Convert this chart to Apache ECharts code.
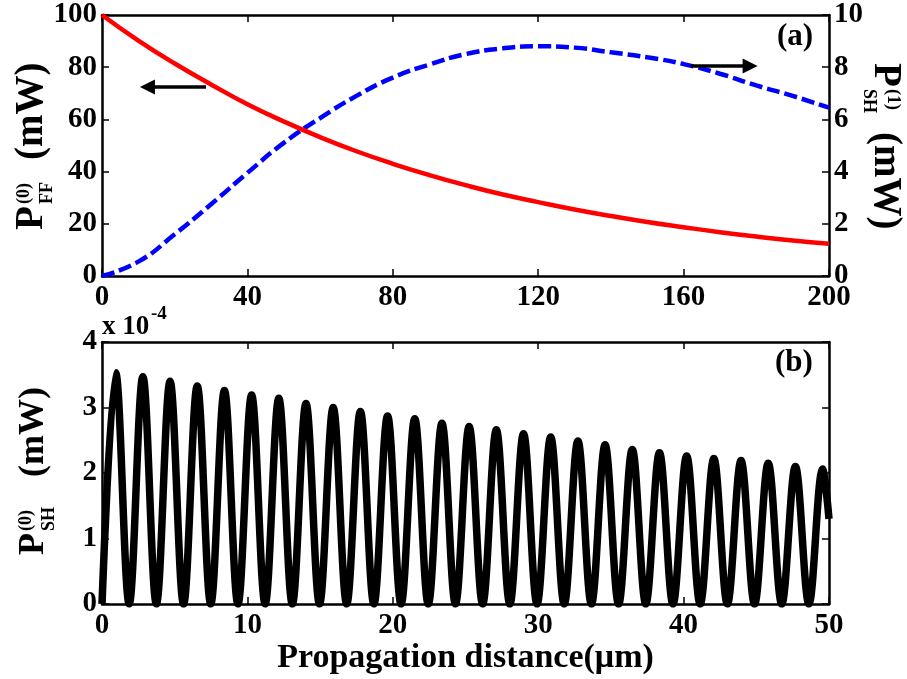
<!DOCTYPE html>
<html>
<head>
<meta charset="utf-8">
<script src="https://cdn.jsdelivr.net/npm/echarts@6/dist/echarts.min.js"></script>
<style>
  html, body { margin: 0; padding: 0; background: #ffffff; }
  #chart { width: 907px; height: 679px; }
</style>
</head>
<body>
<div id="chart"></div>
<script>
// ---- Panel (a): pump (FF) and first-order SH power along the crystal ----
const distA = [0, 10, 20, 30, 40, 50, 60, 70, 80, 90, 100, 110, 120, 130, 140, 150, 160, 170, 180, 190, 200];
const powerFF = [100, 90.2, 81.4, 73.4, 65.8, 59.2, 53.2, 47.8, 43.0, 38.7, 34.8, 31.3, 28.3, 25.5, 23.0, 20.7, 18.7, 16.8, 15.1, 13.6, 12.4];
const powerSH1 = [0, 0.55, 1.6, 2.75, 3.95, 5.1, 6.05, 6.9, 7.6, 8.1, 8.5, 8.72, 8.8, 8.75, 8.57, 8.38, 8.12, 7.75, 7.3, 6.9, 6.45];

// arrows pointing each curve to its own axis: [start, end] in (distance, P_FF) units
const arrowToLeft = [[28.6, 72.4], [12.5, 72.4]];
const arrowToRight = [[162, 80.5], [178.3, 80.5]];

// tick values
const xTicksA = [0, 40, 80, 120, 160, 200];
const yTicksFF = [0, 20, 40, 60, 80, 100];
const yTicksSH1 = [0, 2, 4, 6, 8, 10];

// ---- Panel (b): zeroth-order SH power (x 1e-4 mW), phase-mismatch oscillation ----
const peakZ = [0.94, 2.81, 4.68, 6.55, 8.42, 10.29, 12.16, 14.03, 15.90, 17.77, 19.64, 21.51, 23.38, 25.25, 27.12, 28.99, 30.86, 32.73, 34.60, 36.47, 38.34, 40.21, 42.08, 43.95, 45.82, 47.69, 49.56];
const peakP = [3.53, 3.47, 3.40, 3.33, 3.26, 3.19, 3.14, 3.06, 3.00, 2.94, 2.87, 2.83, 2.76, 2.71, 2.66, 2.60, 2.55, 2.49, 2.43, 2.36, 2.31, 2.26, 2.22, 2.19, 2.15, 2.10, 2.06];
const valleyZ = [0, 1.87, 3.74, 5.61, 7.48, 9.35, 11.22, 13.09, 14.96, 16.83, 18.70, 20.57, 22.44, 24.31, 26.18, 28.05, 29.92, 31.79, 33.66, 35.53, 37.40, 39.27, 41.14, 43.01, 44.88, 46.75, 48.62];
const valleyP = [0, 0, 0, 0, 0, 0, 0, 0, 0, 0, 0, 0, 0, 0, 0, 0, 0, 0, 0, 0, 0, 0, 0, 0, 0, 0, 0];
const edgeB = [50, 1.3];

const xTicksB = [0, 10, 20, 30, 40, 50];
const yTicksB = [0, 1, 2, 3, 4];

// ---- helpers ----
const serif = '"Liberation Serif", "Times New Roman", serif';
const zip = (xs, ys) => xs.map((x, i) => [x, ys[i]]);
const range = t => ({ min: t[0], max: t[t.length - 1], interval: t[1] - t[0] });

const panelB = [];
valleyZ.forEach((z, i) => {
  panelB.push([z, valleyP[i]]);
  panelB.push([peakZ[i], peakP[i]]);
});
panelB.push(edgeB);

const tickLabel = { show: true, color: '#000', fontFamily: serif, fontWeight: 'bold', fontSize: 29 };
const axisLine = { show: true, onZero: false, lineStyle: { color: '#000', width: 2.5 } };
const axisTick = { show: true, inside: true, length: 7, lineStyle: { color: '#000', width: 1.5 } };

function valueAxis(extra, ticks, labelOn, margin) {
  return Object.assign({
    type: 'value',
    ...range(ticks),
    axisLine: axisLine,
    axisTick: axisTick,
    splitLine: { show: false },
    axisLabel: labelOn ? Object.assign({ margin: margin }, tickLabel) : { show: false }
  }, extra);
}

function txt(text, x, y, size) {
  return {
    type: 'text', x: x, y: y,
    style: {
      text: text, font: 'bold ' + size + 'px ' + serif, fill: '#000',
      align: 'left', verticalAlign: 'middle', textAlign: 'left', textVerticalAlign: 'middle'
    }
  };
}

const chart = echarts.init(document.getElementById('chart'), null, { renderer: 'canvas' });

chart.setOption({
  animation: false,
  backgroundColor: '#ffffff',
  grid: [
    { left: 102, top: 15, width: 727, height: 261 },
    { left: 102, top: 342, width: 727, height: 262 }
  ],
  xAxis: [
    valueAxis({ gridIndex: 0, position: 'bottom' }, xTicksA, true, 7),
    valueAxis({ gridIndex: 0, position: 'top' }, xTicksA, false, 8),
    valueAxis({
      gridIndex: 1, position: 'bottom',
      name: 'Propagation distance(\u03bcm)', nameLocation: 'middle', nameGap: 31,
      nameTextStyle: { color: '#000', fontFamily: serif, fontWeight: 'bold', fontSize: 34 }
    }, xTicksB, true, 7),
    valueAxis({ gridIndex: 1, position: 'top' }, xTicksB, false, 8)
  ],
  yAxis: [
    valueAxis({ gridIndex: 0, position: 'left' }, yTicksFF, true, 5),
    valueAxis({ gridIndex: 0, position: 'right' }, yTicksSH1, true, 5),
    valueAxis({ gridIndex: 1, position: 'left' }, yTicksB, true, 5),
    valueAxis({ gridIndex: 1, position: 'right' }, yTicksB, false, 5)
  ],
  series: [
    {
      name: 'P_SH(1)', type: 'line', xAxisIndex: 0, yAxisIndex: 1,
      data: zip(distA, powerSH1), smooth: true, showSymbol: false, z: 2,
      lineStyle: { color: '#0000ff', width: 4.5, type: [13, 5] }
    },
    {
      name: 'P_FF(0)', type: 'line', xAxisIndex: 0, yAxisIndex: 0,
      data: zip(distA, powerFF), smooth: true, showSymbol: false, z: 3,
      lineStyle: { color: '#ff0000', width: 4.5 },
      markLine: {
        silent: true, animation: false,
        symbol: ['none', 'triangle'], symbolSize: 15,
        label: { show: false },
        lineStyle: { color: '#000', width: 3.5, type: 'solid' },
        itemStyle: { color: '#000' },
        data: [
          [{ coord: arrowToLeft[0] }, { coord: arrowToLeft[1] }],
          [{ coord: arrowToRight[0] }, { coord: arrowToRight[1] }]
        ]
      }
    },
    {
      name: 'P_SH(0)', type: 'line', xAxisIndex: 2, yAxisIndex: 2,
      data: panelB, smooth: 0.36, showSymbol: false, z: 2,
      lineStyle: { color: '#000', width: 7.5 }
    }
  ],
  graphic: [
    txt('(a)', 777, 37, 31),
    txt('(b)', 775, 363, 31),
    txt('x 10', 102, 327, 27),
    txt('-4', 151, 314, 19),
    {
      type: 'group', x: 32, y: 230, rotation: Math.PI / 2,
      children: [
        txt('P', 0, 0, 39),
        txt('(0)', 26, -8, 18),
        txt('FF', 26, 15, 18),
        txt('(mW)', 70, 0, 39)
      ]
    },
    {
      type: 'group', x: 885, y: 63, rotation: -Math.PI / 2,
      children: [
        txt('P', 0, 0, 39),
        txt('(1)', 26, -8, 18),
        txt('SH', 26, 16, 18),
        txt('(mW)', 69, 0, 39)
      ]
    },
    {
      type: 'group', x: 34, y: 555, rotation: Math.PI / 2,
      children: [
        txt('P', 0, 0, 36),
        txt('(0)', 24, -8, 18),
        txt('SH', 24, 15, 18),
        txt('(mW)', 78, 0, 36)
      ]
    }
  ]
});
</script>
</body>
</html>
